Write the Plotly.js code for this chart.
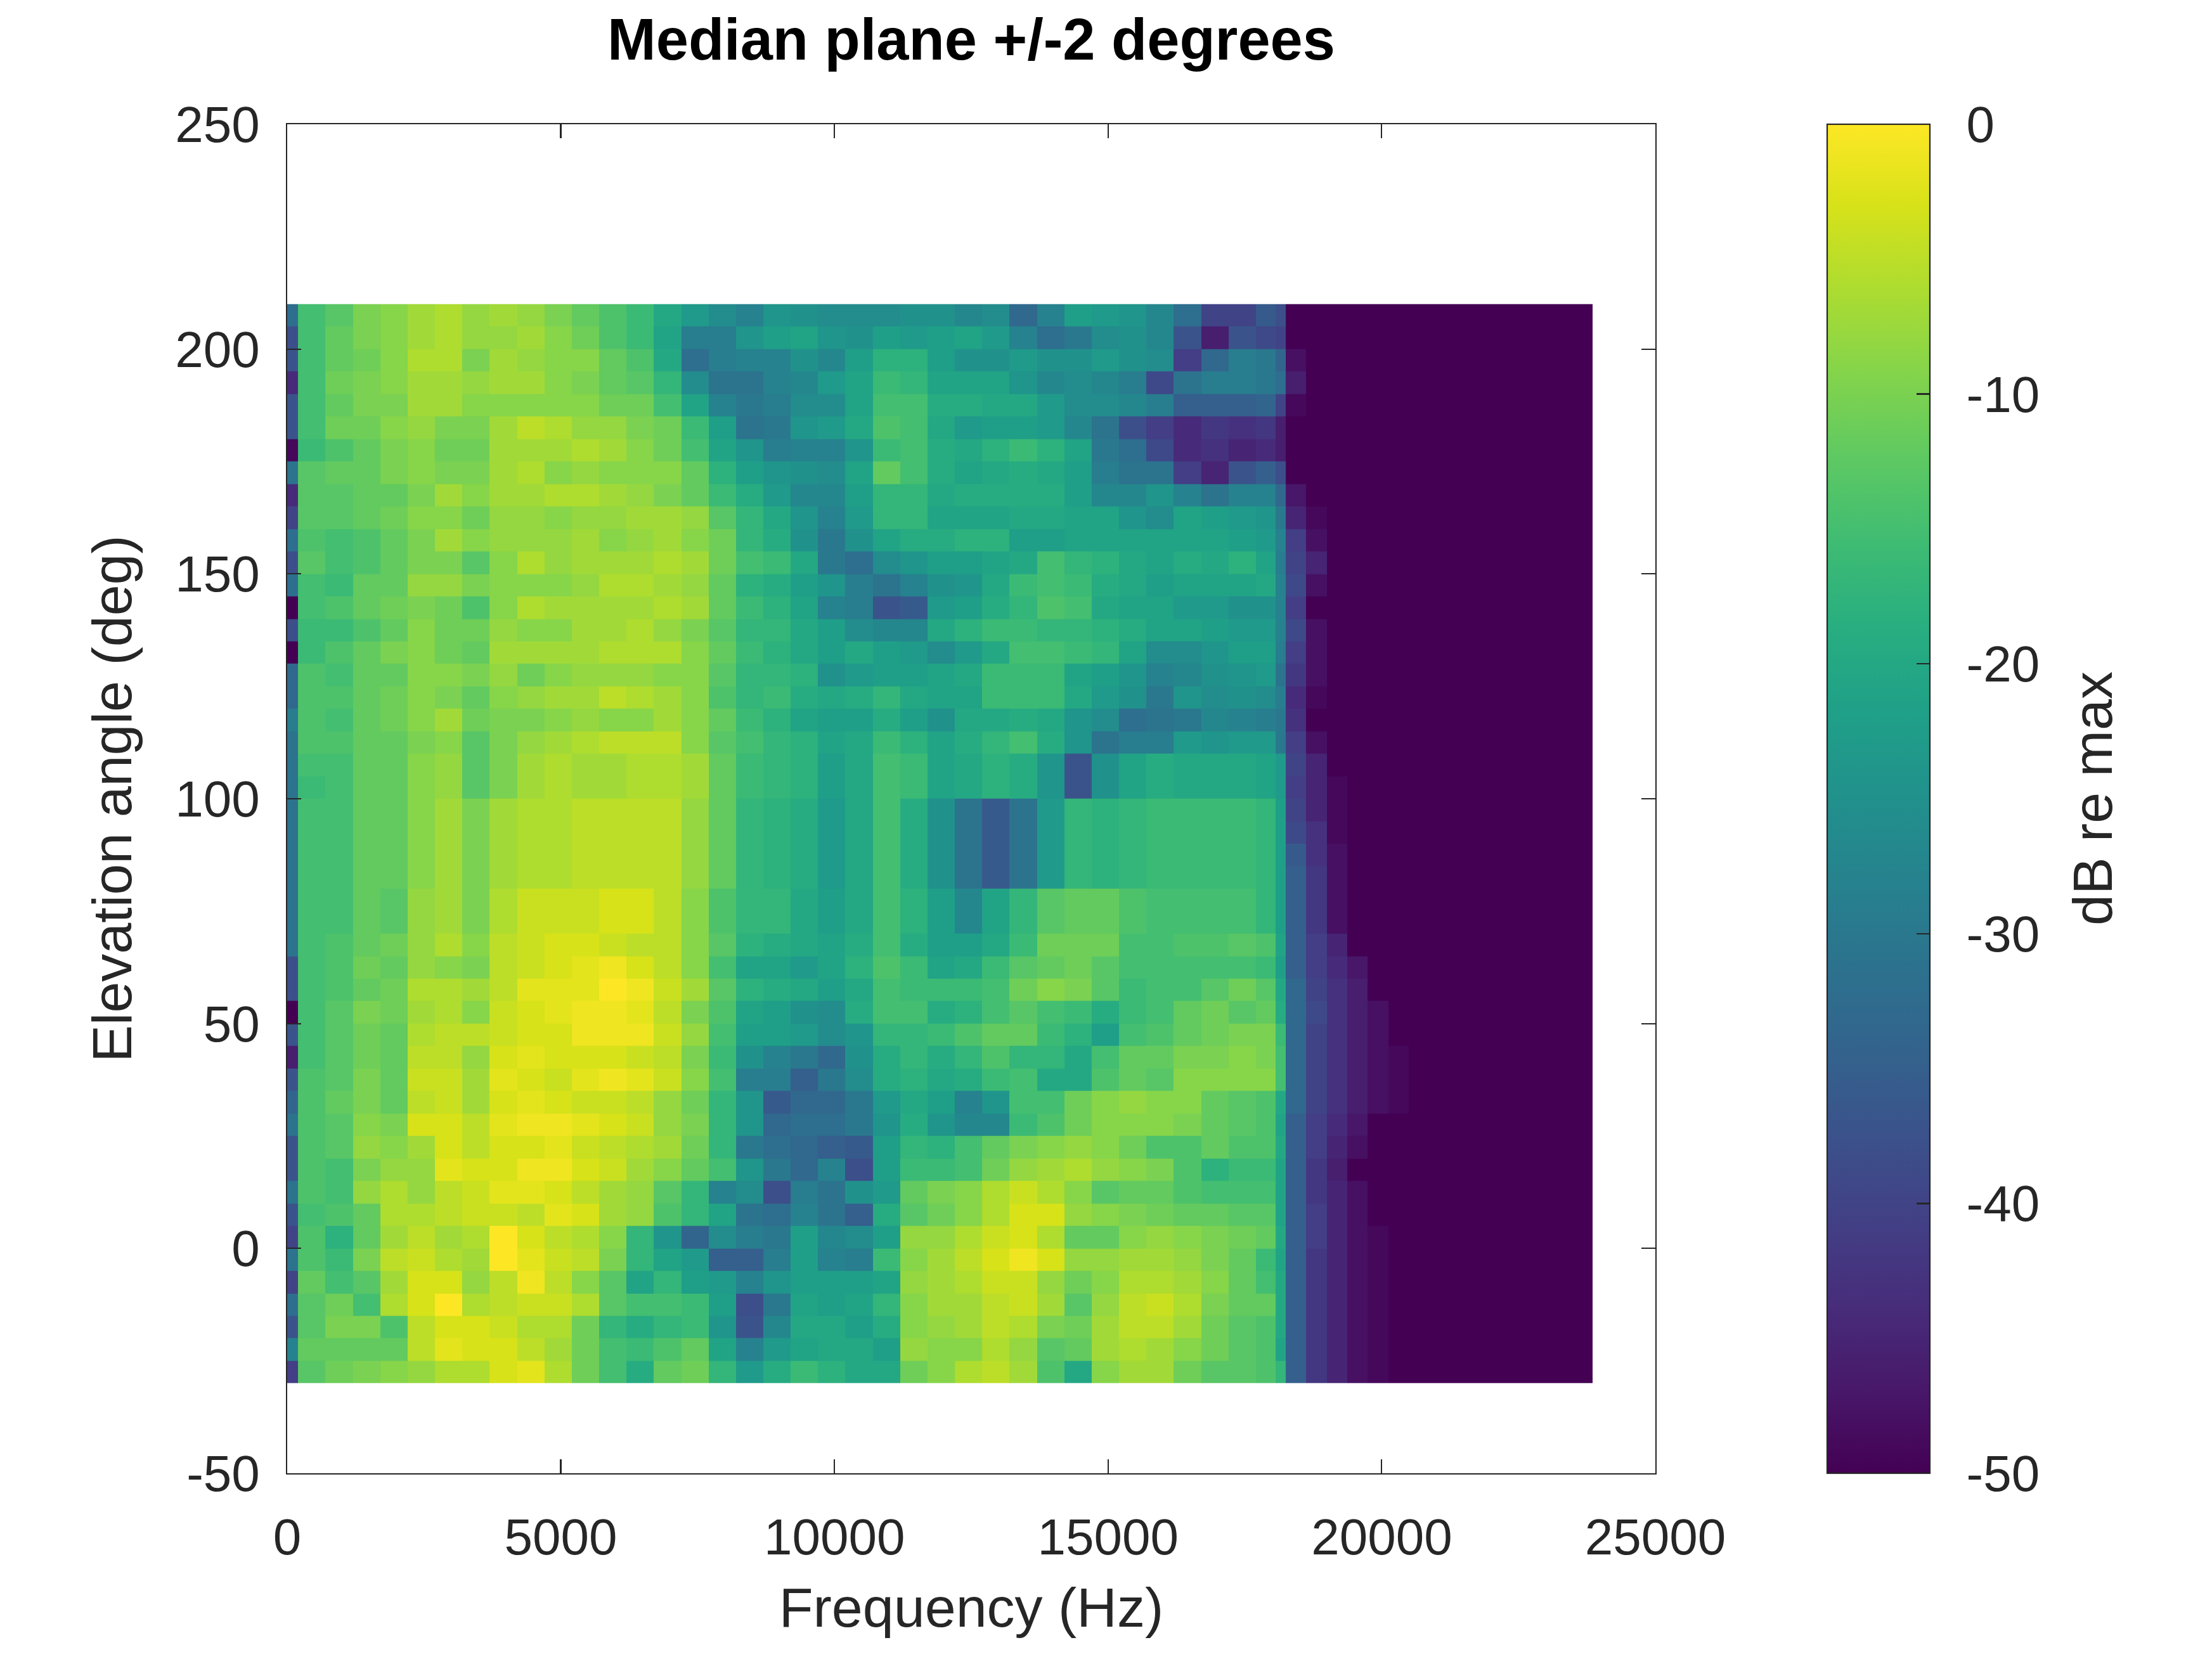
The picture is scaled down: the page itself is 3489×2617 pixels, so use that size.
<!DOCTYPE html>
<html>
<head>
<meta charset="utf-8">
<script src="https://cdn.plot.ly/plotly-3.0.1.min.js"></script>
<style>
  html, body { margin: 0; padding: 0; background: #fff; }
  #myDiv { width: 3489px; height: 2617px; }
</style>
</head>
<body>
<div id="myDiv"></div>
<script>
// frequency bin edges (Hz)
const freqEdges = [0, 200, 700, 1200, 1700, 2200, 2700, 3200, 3700, 4200, 4700, 5200, 5700, 6200,
    6700, 7200, 7700, 8200, 8700, 9200, 9700, 10200, 10700, 11200, 11700, 12200, 12700, 13200,
    13700, 14200, 14700, 15200, 15700, 16200, 16700, 17200, 17700, 18060, 18245,
    18620, 18995, 19370, 19745, 20120, 20495, 23850];

// elevation (deg), top row first
const elevations = [207.5, 202.5, 197.5, 192.5, 187.5, 182.5, 177.5, 172.5, 167.5, 162.5,
    157.5, 152.5, 147.5, 142.5, 137.5, 132.5, 127.5, 122.5, 117.5, 112.5, 107.5, 102.5,
    97.5, 92.5, 87.5, 82.5, 77.5, 72.5, 67.5, 62.5, 57.5, 52.5, 47.5, 42.5, 37.5, 32.5,
    27.5, 22.5, 17.5, 12.5, 7.5, 2.5, -2.5, -7.5, -12.5, -17.5, -22.5, -27.5];

// level in dB re max, one row per elevation (same order as above)
const dbRows = [
  [-32,-15,-13,-10,-9,-7,-6,-8,-7,-8,-10,-12,-14,-16,-20,-23,-26,-28,-24, -25,-26,-26,-26,-25,-25,-27,-26,-33,-28,-22,-23,-24,-27,-32,-40,-40,-36,-38, -50,-50,-50,-50,-50,-50,-50],
  [-38,-15,-12,-10,-9,-7,-6,-8,-8,-7,-9,-11,-14,-16,-21,-29,-29,-24,-22, -21,-24,-25,-22,-23,-22,-21,-23,-28,-32,-30,-26,-25,-27,-37,-46,-37,-39,-40, -50,-50,-50,-50,-50,-50,-50],
  [-37,-15,-12,-11,-9,-6,-6,-10,-7,-8,-9,-9,-12,-14,-20,-32,-29,-28,-28, -25,-27,-22,-18,-18,-22,-25,-25,-23,-25,-25,-23,-25,-26,-41,-33,-29,-30,-34, -48,-50,-50,-50,-50,-50,-50],
  [-44,-15,-11,-10,-9,-7,-7,-8,-7,-7,-9,-10,-12,-13,-17,-26,-31,-31,-28, -27,-23,-21,-16,-17,-21,-21,-21,-24,-27,-26,-27,-29,-39,-31,-29,-29,-30,-32, -46,-50,-50,-50,-50,-50,-50],
  [-37,-15,-12,-10,-10,-7,-7,-9,-9,-9,-9,-9,-11,-11,-15,-21,-28,-30,-29, -26,-26,-21,-15,-15,-19,-19,-20,-20,-23,-26,-26,-27,-29,-35,-35,-35,-34,-40, -49,-50,-50,-50,-50,-50,-50],
  [-37,-15,-11,-11,-9,-8,-10,-10,-7,-5,-6,-8,-8,-10,-11,-16,-22,-31,-30, -24,-23,-20,-14,-15,-20,-23,-22,-22,-23,-27,-31,-38,-41,-44,-42,-43,-42,-46, -50,-50,-50,-50,-50,-50,-50],
  [-49,-16,-14,-12,-10,-9,-11,-11,-7,-7,-7,-6,-7,-9,-11,-15,-21,-24,-29, -28,-28,-24,-16,-15,-19,-20,-18,-16,-18,-21,-30,-32,-39,-44,-43,-45,-44,-46, -50,-50,-50,-50,-50,-50,-50],
  [-31,-13,-12,-12,-10,-9,-10,-10,-7,-6,-9,-8,-9,-9,-9,-12,-18,-22,-24, -25,-26,-21,-12,-15,-19,-21,-20,-19,-20,-22,-29,-31,-31,-41,-45,-37,-35,-38, -50,-50,-50,-50,-50,-50,-50],
  [-44,-13,-13,-12,-12,-10,-7,-9,-7,-7,-6,-6,-7,-8,-10,-12,-16,-19,-23, -27,-27,-22,-17,-17,-20,-19,-19,-19,-19,-22,-27,-27,-24,-28,-31,-28,-28,-33, -47,-50,-50,-50,-50,-50,-50],
  [-40,-13,-13,-12,-11,-9,-9,-11,-8,-8,-9,-8,-8,-7,-7,-8,-13,-17,-20, -24,-28,-23,-17,-17,-21,-21,-21,-20,-20,-21,-21,-24,-26,-21,-22,-23,-24,-30, -45,-49,-50,-50,-50,-50,-50],
  [-32,-14,-15,-14,-12,-10,-7,-9,-8,-8,-8,-7,-9,-8,-7,-9,-11,-17,-19, -25,-30,-25,-21,-19,-19,-18,-18,-22,-22,-21,-21,-21,-21,-21,-21,-22,-23,-28, -41,-48,-50,-50,-50,-50,-50],
  [-38,-13,-15,-14,-12,-10,-10,-13,-9,-6,-8,-7,-7,-7,-6,-7,-11,-15,-16, -20,-30,-32,-26,-24,-22,-22,-21,-20,-15,-17,-18,-20,-21,-19,-20,-18,-21,-29, -40,-45,-50,-50,-50,-50,-50],
  [-32,-15,-16,-12,-12,-8,-8,-10,-9,-9,-9,-8,-6,-6,-7,-8,-12,-18,-19, -22,-24,-29,-31,-28,-25,-24,-20,-16,-15,-16,-19,-20,-22,-21,-21,-21,-20,-28, -39,-48,-50,-50,-50,-50,-50],
  [-50,-15,-14,-12,-11,-10,-11,-14,-9,-6,-7,-7,-7,-7,-6,-7,-12,-16,-18, -21,-28,-29,-37,-36,-23,-22,-19,-17,-14,-15,-20,-21,-21,-23,-23,-25,-25,-28, -41,-50,-50,-50,-50,-50,-50],
  [-38,-16,-16,-14,-12,-9,-11,-11,-8,-9,-9,-7,-7,-6,-8,-10,-13,-17,-17, -20,-22,-26,-27,-27,-20,-18,-16,-16,-17,-17,-18,-19,-21,-21,-22,-23,-23,-28, -39,-48,-50,-50,-50,-50,-50],
  [-50,-16,-14,-12,-10,-9,-11,-12,-7,-7,-7,-7,-6,-6,-6,-9,-12,-16,-18, -20,-22,-20,-22,-23,-26,-23,-20,-15,-15,-16,-17,-21,-26,-26,-24,-22,-22,-29, -41,-48,-50,-50,-50,-50,-50],
  [-33,-14,-15,-12,-12,-9,-9,-10,-8,-11,-9,-8,-8,-8,-9,-9,-13,-17,-17, -18,-25,-23,-22,-22,-21,-20,-16,-16,-16,-21,-22,-24,-28,-27,-25,-24,-23,-31, -42,-48,-50,-50,-50,-50,-50],
  [-33,-14,-14,-12,-11,-9,-10,-12,-9,-8,-7,-7,-5,-6,-7,-9,-14,-17,-16, -19,-20,-19,-17,-20,-21,-21,-16,-16,-16,-20,-23,-25,-30,-24,-26,-25,-26,-29, -44,-49,-50,-50,-50,-50,-50],
  [-29,-14,-15,-12,-11,-9,-7,-11,-10,-10,-9,-8,-9,-9,-7,-9,-12,-16,-18, -21,-22,-22,-19,-22,-25,-20,-20,-19,-20,-24,-26,-32,-31,-30,-27,-28,-29,-30, -43,-50,-50,-50,-50,-50,-50],
  [-31,-14,-14,-12,-12,-10,-9,-13,-10,-8,-7,-6,-5,-5,-5,-9,-13,-15,-17, -18,-21,-20,-16,-18,-21,-19,-17,-15,-19,-24,-31,-29,-29,-23,-24,-23,-23,-30, -41,-48,-50,-50,-50,-50,-50],
  [-31,-15,-15,-12,-12,-9,-8,-13,-10,-7,-6,-7,-7,-6,-6,-7,-12,-16,-17, -18,-22,-20,-15,-16,-21,-20,-18,-19,-24,-37,-25,-21,-19,-20,-20,-20,-21,-23, -40,-45,-50,-50,-50,-50,-50],
  [-31,-16,-15,-12,-12,-9,-8,-13,-10,-7,-6,-7,-7,-6,-6,-7,-12,-16,-17, -18,-22,-20,-15,-16,-21,-20,-18,-19,-24,-37,-25,-21,-19,-20,-20,-20,-21,-23, -41,-45,-49,-50,-50,-50,-50],
  [-31,-15,-15,-12,-12,-9,-7,-10,-7,-6,-6,-5,-5,-5,-5,-8,-12,-17,-18, -19,-23,-20,-15,-19,-25,-31,-36,-31,-23,-17,-18,-17,-16,-16,-16,-16,-17,-22, -40,-45,-49,-50,-50,-50,-50],
  [-31,-15,-15,-12,-12,-9,-7,-10,-7,-6,-6,-5,-5,-5,-5,-8,-12,-17,-18, -19,-23,-20,-15,-19,-25,-31,-36,-31,-23,-17,-18,-17,-16,-16,-16,-16,-17,-22, -39,-43,-49,-50,-50,-50,-50],
  [-31,-15,-15,-12,-12,-9,-7,-10,-7,-6,-6,-5,-5,-5,-5,-8,-12,-17,-18, -19,-23,-20,-15,-19,-25,-31,-36,-31,-23,-17,-18,-17,-16,-16,-16,-16,-17,-22, -36,-43,-48,-50,-50,-50,-50],
  [-31,-15,-15,-12,-12,-9,-7,-10,-7,-6,-6,-5,-5,-5,-5,-8,-12,-17,-18, -19,-23,-20,-15,-19,-25,-31,-36,-31,-23,-17,-18,-17,-16,-16,-16,-16,-17,-22, -35,-42,-48,-50,-50,-50,-50],
  [-31,-15,-15,-12,-13,-8,-7,-10,-6,-4,-4,-4,-3,-3,-5,-9,-14,-17,-17, -20,-22,-20,-15,-18,-22,-27,-21,-17,-13,-12,-12,-14,-15,-15,-15,-15,-17,-22, -35,-42,-48,-50,-50,-50,-50],
  [-31,-15,-15,-12,-13,-8,-7,-10,-6,-4,-4,-4,-3,-3,-5,-9,-14,-17,-17, -20,-22,-20,-15,-18,-22,-27,-21,-17,-13,-12,-12,-14,-15,-15,-15,-15,-17,-22, -35,-42,-48,-50,-50,-50,-50],
  [-31,-15,-14,-12,-11,-8,-6,-9,-5,-4,-3,-3,-4,-5,-5,-9,-13,-18,-19, -20,-21,-19,-15,-19,-22,-22,-20,-16,-11,-11,-11,-15,-15,-14,-14,-13,-14,-21, -35,-41,-45,-50,-50,-50,-50],
  [-38,-15,-14,-11,-12,-8,-9,-10,-5,-4,-3,-2,-1,-3,-5,-9,-15,-21,-21, -23,-21,-18,-14,-16,-21,-20,-16,-13,-12,-11,-13,-15,-15,-15,-15,-15,-16,-22, -35,-41,-44,-47,-50,-50,-50],
  [-38,-15,-14,-12,-11,-6,-6,-7,-5,-2,-2,-2,0,-1,-4,-7,-13,-18,-19, -20,-22,-20,-15,-16,-16,-16,-15,-11,-9,-10,-13,-16,-15,-15,-13,-11,-13,-20, -33,-40,-43,-46,-50,-50,-50],
  [-50,-15,-13,-10,-11,-7,-6,-9,-4,-3,-2,-1,-1,-2,-5,-10,-14,-21,-22, -25,-26,-19,-15,-15,-19,-18,-15,-13,-15,-16,-19,-16,-15,-12,-11,-13,-12,-19, -33,-39,-43,-46,-48,-50,-50],
  [-37,-15,-13,-11,-12,-6,-5,-5,-4,-3,-3,-1,-1,-1,-4,-8,-15,-22,-22, -23,-26,-24,-17,-17,-16,-14,-12,-12,-16,-18,-22,-15,-14,-12,-11,-10,-10,-16, -33,-40,-43,-46,-48,-50,-50],
  [-46,-15,-13,-11,-12,-5,-5,-8,-3,-2,-3,-3,-3,-4,-5,-10,-16,-25,-28, -30,-33,-25,-19,-17,-19,-17,-14,-17,-17,-20,-15,-12,-12,-10,-10,-9,-10,-15, -33,-40,-43,-46,-48,-49,-50],
  [-37,-14,-13,-10,-12,-4,-4,-7,-2,-3,-4,-2,-1,-2,-4,-9,-15,-29,-29, -35,-30,-26,-19,-18,-20,-19,-16,-15,-20,-20,-14,-12,-13,-9,-9,-9,-9,-15, -33,-40,-43,-46,-48,-49,-50],
  [-34,-14,-12,-10,-12,-5,-4,-7,-3,-2,-3,-4,-4,-5,-8,-11,-17,-24,-36, -33,-33,-30,-23,-20,-22,-28,-24,-15,-15,-11,-9,-8,-9,-9,-12,-13,-14,-20, -33,-40,-43,-46,-48,-49,-50],
  [-31,-14,-13,-9,-10,-3,-3,-5,-2,-1,-1,-2,-3,-4,-8,-10,-17,-24,-33, -32,-32,-30,-24,-19,-24,-27,-27,-16,-14,-11,-9,-9,-9,-10,-12,-13,-14,-21, -35,-41,-44,-47,-50,-50,-50],
  [-37,-14,-13,-8,-9,-7,-3,-5,-3,-3,-2,-4,-5,-6,-7,-11,-17,-30,-32, -33,-35,-36,-22,-17,-18,-15,-12,-10,-9,-8,-9,-11,-14,-14,-12,-14,-14,-20, -35,-41,-45,-48,-50,-50,-50],
  [-37,-14,-15,-10,-8,-8,-2,-3,-3,-1,-1,-3,-4,-7,-9,-12,-15,-24,-30, -33,-28,-38,-22,-16,-16,-15,-11,-8,-7,-6,-8,-9,-10,-14,-18,-16,-16,-21, -35,-42,-46,-50,-50,-50,-50],
  [-31,-14,-15,-8,-6,-8,-5,-4,-2,-2,-3,-5,-7,-8,-13,-17,-28,-26,-38, -29,-31,-25,-23,-12,-10,-9,-6,-4,-6,-9,-13,-12,-12,-14,-15,-15,-15,-21, -35,-42,-45,-48,-50,-50,-50],
  [-37,-15,-14,-12,-6,-6,-5,-4,-4,-5,-2,-3,-7,-8,-14,-17,-21,-31,-32, -28,-31,-35,-19,-13,-11,-9,-6,-3,-3,-8,-9,-10,-11,-12,-12,-13,-13,-21, -35,-41,-45,-48,-50,-50,-50],
  [-40,-14,-18,-12,-7,-5,-7,-6,0,-3,-5,-6,-9,-17,-24,-34,-26,-29,-30, -22,-27,-26,-22,-8,-8,-6,-4,-3,-6,-12,-12,-9,-8,-9,-10,-11,-12,-20, -35,-41,-45,-48,-49,-50,-50],
  [-31,-14,-16,-10,-5,-4,-6,-7,0,-2,-4,-5,-10,-17,-21,-23,-35,-35,-29, -22,-28,-29,-16,-9,-7,-5,-3,-1,-3,-8,-8,-7,-7,-8,-10,-12,-16,-21, -35,-42,-45,-48,-49,-50,-50],
  [-40,-12,-15,-13,-7,-3,-3,-8,-5,-1,-5,-9,-13,-21,-17,-22,-23,-28,-24, -22,-22,-22,-21,-8,-7,-6,-4,-4,-8,-11,-9,-6,-6,-7,-9,-12,-15,-20, -35,-42,-45,-48,-49,-50,-50],
  [-32,-13,-11,-15,-6,-3,0,-6,-5,-4,-4,-6,-13,-15,-15,-16,-22,-38,-30, -21,-22,-21,-17,-9,-7,-7,-5,-4,-7,-13,-8,-5,-4,-6,-10,-12,-12,-20, -35,-42,-45,-48,-49,-50,-50],
  [-37,-13,-10,-10,-14,-5,-3,-3,-4,-6,-6,-11,-17,-19,-17,-16,-24,-37,-27, -20,-20,-22,-19,-9,-8,-7,-5,-6,-10,-11,-7,-5,-5,-7,-11,-13,-14,-20, -35,-42,-45,-48,-49,-50,-50],
  [-28,-12,-12,-12,-12,-5,-2,-3,-3,-5,-7,-11,-15,-16,-14,-12,-21,-28,-23, -21,-20,-20,-22,-8,-9,-9,-6,-8,-13,-12,-7,-6,-7,-9,-11,-13,-14,-21, -35,-42,-45,-48,-49,-50,-50],
  [-41,-13,-11,-10,-9,-8,-6,-6,-3,-2,-6,-11,-15,-19,-12,-11,-17,-23,-19, -16,-18,-20,-20,-11,-9,-6,-5,-7,-14,-20,-9,-7,-7,-11,-13,-13,-14,-17, -35,-42,-45,-48,-49,-50,-50]
];

const xTicks = [0, 5000, 10000, 15000, 20000, 25000];
const yTicks = [-50, 0, 50, 100, 150, 200, 250];
const cbTicks = [-50, -40, -30, -20, -10, 0];

const FONT = 'Liberation Sans, Arial, Helvetica, sans-serif';
const INK = '#262626';

var data = [
{
    type: 'heatmap',
    x: freqEdges,
    y: elevations.slice().reverse(),
    z: dbRows.slice().reverse(),
    zmin: -50,
    zmax: 0,
    zsmooth: false,
    colorscale: 'Viridis',
    colorbar: {
        x: 1.1256,
        xanchor: 'left',
        y: 0.5,
        yanchor: 'middle',
        len: 1,
        lenmode: 'fraction',
        thickness: 162,
        thicknessmode: 'pixels',
        xpad: 0,
        ypad: 0,
        outlinewidth: 2.2,
        outlinecolor: INK,
        ticks: 'inside',
        ticklen: 22,
        tickwidth: 2.2,
        tickcolor: INK,
        tickvals: cbTicks,
        // en space keeps the labels clear of the bar edge
        ticktext: cbTicks.map(v => '\u2002' + v),
        tickfont: { family: FONT, size: 80, color: INK }
    }
}
];

var axisCommon = {
    showgrid: false,
    zeroline: false,
    showline: true,
    linecolor: INK,
    linewidth: 2.2,
    mirror: 'ticks',
    ticks: 'inside',
    ticklen: 22,
    tickwidth: 2.2,
    tickcolor: INK,
    tickfont: { family: FONT, size: 80, color: INK }
};

var layout = {
    width: 3489,
    height: 2617,
    paper_bgcolor: '#ffffff',
    plot_bgcolor: '#ffffff',
    margin: { l: 453, r: 878, t: 196, b: 293, pad: 0 },
    font: { family: FONT, color: INK },
    title: {
        text: 'Median plane +/-2 degrees',
        font: { family: FONT, size: 92, color: '#000000', weight: 'bold' },
        x: 0.5,
        xref: 'paper',
        xanchor: 'center',
        y: 1 - 62 / 2617,
        yref: 'container',
        yanchor: 'middle'
    },
    xaxis: Object.assign({}, axisCommon, {
        range: [0, 25000],
        tickvals: xTicks,
        ticktext: xTicks.map(String),
        ticklabelstandoff: 30,
        title: { text: 'Frequency (Hz)', font: { family: FONT, size: 88, color: INK }, standoff: 36 }
    }),
    yaxis: Object.assign({}, axisCommon, {
        range: [-50, 250],
        tickvals: yTicks,
        ticktext: yTicks.map(String),
        ticklabelstandoff: 25,
        title: { text: 'Elevation angle (deg)', font: { family: FONT, size: 88, color: INK }, standoff: 40 }
    }),
    annotations: [{
        text: 'dB re max',
        textangle: -90,
        xref: 'paper',
        yref: 'paper',
        x: 1.3193,
        y: 0.5,
        xanchor: 'center',
        yanchor: 'middle',
        showarrow: false,
        font: { family: FONT, size: 88, color: INK }
    }]
};

Plotly.newPlot('myDiv', data, layout, { staticPlot: true, displayModeBar: false });
</script>
</body>
</html>
